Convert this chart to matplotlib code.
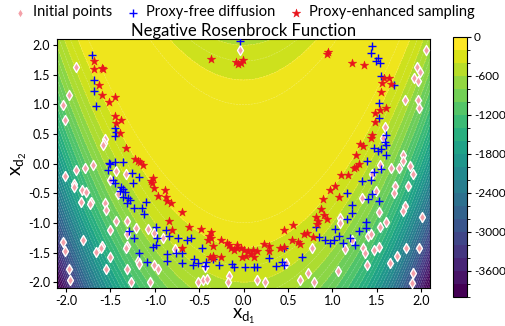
import numpy as np
import matplotlib
matplotlib.use("Agg")
import matplotlib.pyplot as plt
from matplotlib.colors import BoundaryNorm
from matplotlib.cm import ScalarMappable

plt.rcParams['font.family'] = ['Lato', 'DejaVu Sans']
plt.rcParams['mathtext.fontset'] = 'custom'
plt.rcParams['mathtext.rm'] = 'Lato'
plt.rcParams['mathtext.it'] = 'Lato'
plt.rcParams['axes.unicode_minus'] = False

# ---------------- data ----------------
initial_x = [-1.89, -1.97, -2.04, -2.01, -0.04,
             -1.56, -1.57, -1.58, -1.70, -1.79, -1.89, -2.01, -1.44, -1.33, -1.51,
             -1.91, -1.91, -1.82, -1.78, -1.41, -1.83, -1.72, -1.73, -1.56, -1.55,
             -2.04, -2.01, -1.97, -1.81, -1.59, -1.61, -1.66, -1.50, -1.55, -1.31, -1.32,
             -1.44, -1.31, -1.50, -1.31, -1.21, -1.08, -1.01, -0.91, -1.19, -1.18, -1.31,
             -1.01, -0.97, -0.77, -0.44, -0.16,
             -1.96, -1.27, -1.06, -0.51, -0.46, -0.41, -0.18, 0.15, 0.24, 0.63, 0.79, 1.90,
             2.05, 1.95, 1.99, 1.92, 1.96, 1.82, 1.96, 1.97, 1.59, 1.57, 1.80, 1.80, 1.54,
             1.66, 1.75, 1.87, 1.91, 1.45, 1.70, 1.85, 1.49, 1.69, 1.33, 1.82, 1.79, 1.53,
             1.09, 1.08, 1.60, 2.01, 1.54, 1.40, 1.44, 1.22, 1.14, 1.34, 1.37, 1.47, 1.53,
             1.73, 1.83, 1.97, 0.77, 0.48, 1.39, 1.06, 0.73, 1.65, 1.91]
initial_y = [1.63, 1.16, 0.99, 0.74, 1.91,
             0.41, 0.35, 0.32, -0.03, -0.08, -0.10, -0.21, -0.12, -0.18, -0.28,
             -0.34, -0.40, -0.45, -0.48, -0.52, -0.64, -0.64, -0.68, -0.67, -0.79,
             -1.32, -1.47, -1.78, -1.28, -1.39, -1.43, -1.49, -1.57, -1.77, -1.39, -1.43,
             -0.97, -0.97, -1.12, -1.18, -1.08, -1.11, -1.17, -1.26, -1.64, -1.69, -1.78,
             -1.71, -1.78, -1.44, -1.75, -1.89,
             -1.97, -2.00, -1.99, -1.99, -1.97, -1.95, -1.99, -1.97, -2.00, -1.96, -2.00, -2.01,
             1.92, 1.63, 1.54, 1.44, 1.39, 1.08, 1.07, 0.94, 0.62, 0.43, 0.15, 0.04, -0.02,
             -0.07, -0.07, -0.04, -0.18, -0.18, -0.37, -0.37, -0.46, -0.49, -0.58, -0.71, -0.80, -0.81,
             -0.91, -1.00, -0.98, -0.90, -1.07, -1.22, -1.19, -1.29, -1.44, -1.43, -1.51, -1.46, -1.41,
             -1.56, -1.43, -1.42, -1.42, -1.68, -1.71, -1.81, -1.84, -1.67, -1.85]

free_x = [-0.04, 1.45, 1.43, 1.51, 1.49, 1.54, 1.55, 1.69, 1.52, 1.53, 1.60, 1.59, 1.60,
          1.47, 1.51, 1.55, 1.60, 1.39, 1.55, 1.47, 1.33, 1.44, 1.16, 1.45, 1.40, 1.53,
          1.22, 1.22, 1.16, 1.38, 0.81, 1.03, 1.30, 1.38, 0.85, 0.92, 0.97, 1.02, 1.07,
          1.20, 1.12, 1.25, 0.46, 0.66, 0.29, 0.43, 0.46, 0.36, 0.01, 0.12, 0.15,
          -1.71, -1.68, -1.68, -1.66, -1.45, -1.44, -1.45, -1.52, -1.50, -1.45, -1.36,
          -1.53, -1.26, -1.18, -1.47, -1.45, -1.25, -1.38, -1.36, -1.39, -1.34, -1.36,
          -1.30, -1.28, -1.31, -1.10, -1.24, -1.15, -1.12, -0.99, -0.87, -1.29, -1.24,
          -0.98, -0.84, -0.74, -0.64, -0.59, -1.02, -0.99, -0.47, -1.18, -0.86, -0.76,
          -0.69, -1.09, -0.86, -0.56, -0.69, -0.51, -0.42, -0.57, -0.43, -0.35, -0.28,
          -0.13, -0.11]
free_y = [2.06, 1.98, 1.86, 1.79, 1.73, 1.69, 1.48, 1.33, 1.03, 0.77, 0.48, 0.37, 0.31,
          0.27, 0.22, 0.25, 0.15, 0.04, -0.09, -0.14, -0.29, -0.28, -0.49, -0.51, -0.60, -0.63,
          -0.69, -0.84, -0.94, -0.98, -1.06, -1.11, -1.14, -1.09, -1.23, -1.29, -1.33, -1.28, -1.22,
          -1.25, -1.34, -1.38, -1.42, -1.57, -1.59, -1.66, -1.71, -1.73, -1.75, -1.75, -1.75,
          1.84, 1.41, 1.22, 0.97, 0.60, 0.53, 0.47, 0.01, 0.00, 0.02, 0.02,
          -0.10, -0.15, -0.23, -0.28, -0.32, -0.33, -0.40, -0.42, -0.46, -0.48, -0.57,
          -0.58, -0.62, -0.67, -0.64, -0.74, -0.75, -0.85, -1.06, -1.12, -1.13, -1.26,
          -1.25, -1.22, -1.26, -1.28, -1.25, -1.40, -1.37, -1.42, -1.50, -1.52, -1.50,
          -1.50, -1.66, -1.65, -1.61, -1.68, -1.67, -1.66, -1.71, -1.73, -1.61, -1.71,
          -1.69, -1.75]

enh_x = [-1.68, -1.68, -1.59, -1.58, -1.63, -1.59, -1.45, -1.52, -1.45, -1.38, -1.44,
         -1.39, -1.33, -1.22, -1.19, -1.17, -1.13, -1.04, -1.02, -1.03, -1.01, -0.89,
         -0.96, -0.88, -0.86, -0.82, -0.69, -0.84, -0.62, -0.81, -0.48, -0.37, -0.39,
         -0.37, -0.40, -0.26, -0.19, -0.17, -0.14, -0.07, -0.11, -0.35, -0.69, -0.35,
         -0.34, -0.38, -0.25, -0.08,
         -0.37, -0.09, -0.06, -0.01, -0.03, 0.95, 0.94,
         1.22, 1.36, 1.58, 1.64, 1.56, 1.66, 1.55, 1.60, 1.54, 1.48, 1.48, 1.45, 1.43,
         1.31, 1.34, 1.27, 1.30, 1.27, 1.24, 1.10, 1.17, 1.03, 0.97, 1.07, 0.89, 0.87,
         0.90, 0.82, 0.94, 0.84, 0.83, 0.56, 0.46, 0.71, 0.68, 0.78, 0.55, 0.61, 0.64,
         0.23, 0.29, 0.29, 0.41, 0.45,
         -0.03, 0.00, 0.05, 0.08, 0.03, 0.10, 0.15, -0.02, 0.12]
enh_y = [1.73, 1.60, 1.62, 1.60, 1.32, 1.16, 1.13, 1.04, 0.81, 0.74, 0.69,
         0.51, 0.27, 0.08, 0.05, 0.02, -0.02, -0.29, -0.25, -0.33, -0.41, -0.44,
         -0.54, -0.57, -0.63, -0.66, -0.82, -0.96, -1.06, -1.12, -1.11, -1.16, -1.22,
         -1.25, -1.28, -1.29, -1.33, -1.37, -1.42, -1.37, -1.46, -1.39, -1.42, -1.56,
         -1.59, -1.58, -1.58, -1.42,
         1.77, 1.71, 1.68, 1.75, 1.69, 1.88, 1.85,
         1.69, 1.66, 1.45, 1.45, 1.36, 1.35, 1.20, 0.94, 0.90, 0.86, 0.71, 0.48, 0.44,
         0.33, 0.29, 0.14, 0.00, -0.05, -0.08, -0.19, -0.19, -0.37, -0.45, -0.56, -0.59, -0.76,
         -0.86, -0.90, -0.94, -0.96, -1.02, -1.03, -1.12, -1.17, -1.19, -1.24, -1.28, -1.32, -1.36,
         -1.35, -1.39, -1.47, -1.43, -1.41,
         -1.42, -1.45, -1.47, -1.52, -1.55, -1.45, -1.48, -1.58, -1.58]

cbar_ticks = [0, -600, -1200, -1800, -2400, -3000, -3600]

# ---------------- surface ----------------
g = np.linspace(-2.1, 2.1, 400)
X, Y = np.meshgrid(g, g)
Z = -((1 - X) ** 2 + 100 * (Y - X ** 2) ** 2)
levels = np.arange(-4000, 1, 200)

cmap = plt.get_cmap('viridis').copy()
cmap.set_under(cmap(0.0))

fig = plt.figure(figsize=(5.06, 3.26), dpi=100)
ax = fig.add_axes([0.113, 0.116, 0.737, 0.764])
cax = fig.add_axes([0.895, 0.089, 0.028, 0.798])

cf = ax.contourf(X, Y, Z, levels=levels, cmap=cmap, extend='min')
ax.contour(X, Y, Z, levels=np.arange(-4400, 1, 100), colors='white',
           linewidths=0.4, alpha=0.35)

ax.scatter(initial_x, initial_y, marker='d', s=26, facecolor='#f4a0a8',
           edgecolor='white', linewidth=1.0, zorder=3, label='Initial points')
ax.scatter(free_x, free_y, marker='+', s=32, color='blue', linewidth=1.0,
           zorder=4, label='Proxy-free diffusion')
ax.scatter(enh_x, enh_y, marker='*', s=42, color='#e8141c', linewidth=0.3,
           zorder=5, label='Proxy-enhanced sampling')

ax.set_xlim(-2.1, 2.1)
ax.set_ylim(-2.1, 2.1)
ax.set_xticks([-2.0, -1.5, -1.0, -0.5, 0.0, 0.5, 1.0, 1.5, 2.0])
ax.set_yticks([-2.0, -1.5, -1.0, -0.5, 0.0, 0.5, 1.0, 1.5, 2.0])
ax.tick_params(labelsize=9, length=3, pad=2)
ax.set_xlabel(r'$x_{d_1}$', fontsize=13.5, labelpad=0)
ax.set_ylabel(r'$x_{d_2}$', fontsize=14, labelpad=-1)
ax.set_title('Negative Rosenbrock Function', fontsize=12, pad=2)

sm = ScalarMappable(norm=BoundaryNorm(levels, cmap.N), cmap=cmap)
cb = fig.colorbar(sm, cax=cax, ticks=cbar_ticks)
cb.ax.tick_params(labelsize=8.5, length=3, pad=2)

fig.legend(loc='upper center', bbox_to_anchor=(0.483, 1.01), ncol=3, frameon=False,
           fontsize=10.5, handlelength=0.8, handletextpad=0.5, columnspacing=1.0,
           borderaxespad=0.2)

fig.savefig('out.png', dpi=100)
